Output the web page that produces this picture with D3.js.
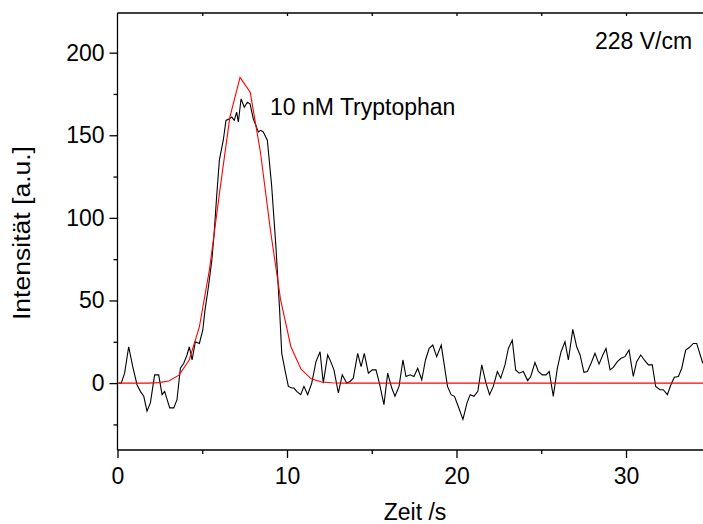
<!DOCTYPE html>
<meta charset="utf-8">
<html>
<head>
<script src="https://d3js.org/d3.v7.min.js"></script>
<style>
body { margin: 0; background: #fff; }
text { font-family: "Liberation Sans", Arial, sans-serif; fill: #000; }
.axis path, .axis line { stroke: #000; stroke-width: 1.3px; }
</style>
</head>
<body>
<script>
// measured trace (time in s, intensity in a.u.)
var zeit = [0.07,0.22,0.42,0.66,0.90,1.15,1.35,1.55,1.74,1.94,2.19,2.43,2.63,2.78,3.08,3.32,3.51,3.71,3.91,4.10,
  4.24,4.40,4.59,4.83,5.03,5.16,5.36,5.56,5.69,5.85,6.01,6.24,6.40,6.60,6.74,6.89,7.03,7.13,7.29,7.48,
  7.66,7.82,8.01,8.31,8.45,8.60,8.84,9.09,9.35,9.56,9.69,9.88,10.08,10.28,10.41,10.57,10.81,11.00,11.22,11.46,
  11.71,11.95,12.14,12.40,12.58,12.77,13.03,13.26,13.52,13.72,13.91,14.17,14.37,14.56,14.80,15.03,15.25,15.45,15.72,15.94,
  16.18,16.37,16.61,16.84,17.02,17.26,17.49,17.71,17.95,18.17,18.39,18.60,18.83,19.10,19.47,19.68,19.88,20.10,20.38,20.62,
  20.81,21.03,21.26,21.49,21.74,21.95,22.17,22.41,22.61,22.86,23.06,23.29,23.49,23.70,23.94,24.20,24.38,24.63,24.83,25.06,
  25.28,25.47,25.71,25.95,26.17,26.40,26.60,26.86,27.09,27.29,27.52,27.72,27.94,28.17,28.41,28.63,28.82,29.06,29.25,29.49,
  29.71,29.94,30.18,30.43,30.63,30.87,31.08,31.32,31.55,31.75,32.01,32.20,32.44,32.65,32.85,33.09,33.29,33.52,33.73,33.97,
  34.17,34.53];
var signal = [0,0,6,22,10,-1,-5,-8,-17,-12,5,5,-7,-5,-15,-15,-10,9,12,17,
  22,14,25,24,32,44,58,74,89,113,135,147,159,160,161,159,164,158,172,167,
  170,169,160,152,153,152,147,120,82,45,18,8,-2,-3,-3,-5,-7,-2,-7,0,
  13,19,0,17,13,8,-6,5,0,1,3,18,10,18,6,8,8,0,-13,6,
  -3,-8,-2,14,4,5,4,9,2,14,21,23,16,23,-2,-7,-8,-14,-22,-12,
  -7,-8,-5,11,0,-7,-2,7,3,11,21,26,8,6,7,1.5,4,12.5,7,5,
  5,7,-8,9,19,25,14,32.5,22,17,6.5,7,12,18,11.5,17,21,8,9.5,13,
  15,16,20,4,13,17,14,11,11,-2,-4,-4,-7,-1,3.5,4,9,20,21.5,24,
  24,12];

// fitted curve, read at its own (coarser) steps
var fitZeit = [0.03,0.63,1.23,1.83,2.43,3.03,3.63,4.23,4.83,5.43,6.03,6.63,7.23,7.83,8.43,9.03,9.63,10.23,10.83,11.43,
  12.03,12.63,13.23,14.43,20.43,26.43,32.43,35.0];
var fitWert = [0,0,0,0,0.3,1.3,4.8,14,34,69,116,161,185,176,140,92,50,22,8.4,2.6,
  0.7,0.2,0,0,0,0,0,0];

var xTicks = [0,10,20,30];
var yTicks = [0,50,100,150,200];

var W = 703, H = 524;
var mLeft = 117.5, mTop = 13, mBottom = 450;

var x = d3.scaleLinear().domain([0, 35]).range([mLeft, mLeft + 16.95 * 35]);
var y = d3.scaleLinear().domain([-40.5, 224]).range([mBottom, mTop]);

var svg = d3.select("body").append("svg")
    .attr("width", W)
    .attr("height", H);

svg.append("clipPath").attr("id", "clip")
  .append("rect")
    .attr("x", mLeft).attr("y", mTop)
    .attr("width", W - mLeft).attr("height", mBottom - mTop);

// frame (plot is cut off at the right edge of the image)
svg.append("line")
    .attr("x1", mLeft).attr("x2", W + 2)
    .attr("y1", mTop).attr("y2", mTop)
    .attr("stroke", "#000").attr("stroke-width", 1.3);

// bottom axis
var xAxis = d3.axisBottom(x).tickValues(xTicks).tickSize(8).tickPadding(4).tickFormat(d3.format("d"));
var gx = svg.append("g").attr("class", "axis")
    .attr("transform", "translate(0," + mBottom + ")")
    .call(xAxis);
gx.select(".domain").attr("d", "M" + mLeft + ",0H" + (W + 2));
gx.selectAll("text").attr("font-size", "23px").attr("dy", "0.95em");

var gxm = svg.append("g").attr("class", "axis").attr("transform", "translate(0," + mBottom + ")")
    .call(d3.axisBottom(x).tickValues([5,15,25]).tickSize(4).tickFormat(""));
gxm.select(".domain").remove();

// top axis ticks, inside
var gt = svg.append("g").attr("class", "axis").attr("transform", "translate(0," + mTop + ")")
    .call(d3.axisBottom(x).tickValues([5,10,15,20,25,30]).tickSize(3).tickFormat(""));
gt.select(".domain").remove();

// left axis
var yAxis = d3.axisLeft(y).tickValues(yTicks).tickSize(8).tickPadding(5);
var gy = svg.append("g").attr("class", "axis")
    .attr("transform", "translate(" + mLeft + ",0)")
    .call(yAxis);
gy.select(".domain").attr("d", "M0," + mTop + "V" + mBottom);
gy.selectAll("text").attr("font-size", "23px");

var gym = svg.append("g").attr("class", "axis").attr("transform", "translate(" + mLeft + ",0)")
    .call(d3.axisLeft(y).tickValues([-25,25,75,125,175]).tickSize(4).tickFormat(""));
gym.select(".domain").remove();

var plot = svg.append("g").attr("clip-path", "url(#clip)");

var line = d3.line()
    .x(function(d) { return x(d[0]); })
    .y(function(d) { return y(d[1]); });

plot.append("path")
    .datum(d3.zip(zeit, signal))
    .attr("fill", "none")
    .attr("stroke", "#000")
    .attr("stroke-width", 1.1)
    .attr("d", line);

plot.append("path")
    .datum(d3.zip(fitZeit, fitWert))
    .attr("fill", "none")
    .attr("stroke", "#ff0000")
    .attr("stroke-width", 1.1)
    .attr("d", line);

// labels
svg.append("text")
    .attr("x", 415).attr("y", 520)
    .attr("text-anchor", "middle")
    .attr("font-size", "23px")
    .text("Zeit /s");

svg.append("text")
    .attr("text-anchor", "middle")
    .attr("transform", "translate(30,233)rotate(-90)")
    .attr("font-size", "23px")
    .attr("textLength", 174)
    .attr("lengthAdjust", "spacingAndGlyphs")
    .text("Intensität [a.u.]");

svg.append("text")
    .attr("x", 270).attr("y", 115)
    .attr("font-size", "23px")
    .text("10 nM Tryptophan");

svg.append("text")
    .attr("x", 595).attr("y", 49)
    .attr("font-size", "23px")
    .text("228 V/cm");
</script>
</body>
</html>
